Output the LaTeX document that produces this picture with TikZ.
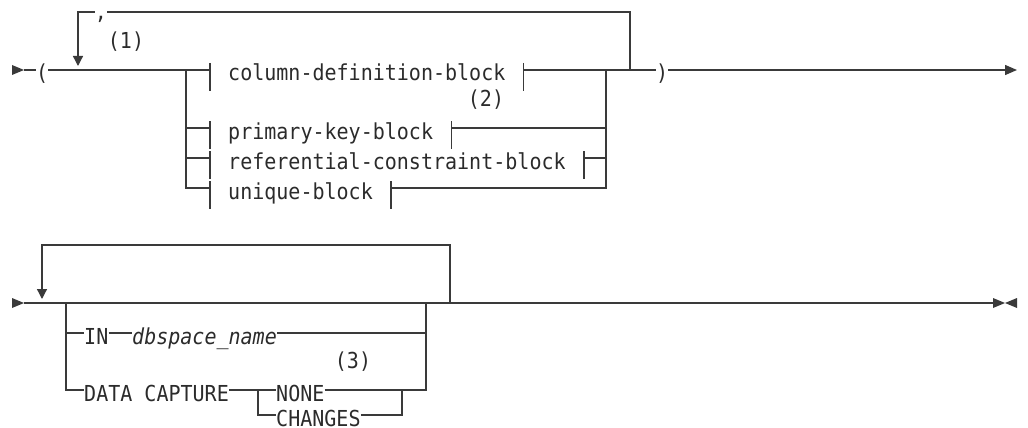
\documentclass[tikz,border=0pt]{standalone}
\usepackage{fontspec}
\setmonofont[FakeStretch=0.91]{DejaVu Sans Mono}
\usepackage{tikz}
\usetikzlibrary{positioning,arrows.meta,calc}
\definecolor{cRail}{HTML}{3A3A3A}
\definecolor{cText}{HTML}{2B2B2B}

\begin{document}
\begin{tikzpicture}[
  x=1pt, y=-1pt,
  >={Triangle[length=10pt, width=10pt]},
  every node/.style={text=cText, inner sep=0pt,
                     font=\ttfamily\fontsize{22}{26}\selectfont},
  %
  kw/.style={anchor=west, text height=22pt, text depth=0pt},   % rail passes 11pt above baseline
  note/.style={anchor=center},
  rail/.style={draw=cRail, line width=1.3pt},
  marker/.style={fill=cRail},
]
\useasboundingbox (0,0) rectangle (1028,428);

% ────────────── UPPER DIAGRAM: main rail ───────────────────────────────────
\coordinate (s1)     at (12,70);
\coordinate (bL)     at (186,70);
\coordinate (bR)     at (606,70);
\coordinate (loopR)  at (630,70);
\coordinate (loopT)  at (630,12);
\coordinate (loopL)  at (78,12);
\coordinate (loopLe) at (78,66);
\coordinate (end1)   at (1017,70);

\fill[marker] (s1) ++(0,-5) -- ++(12,5) -- ++(-12,5) -- cycle;
\node[kw] (lp) at (36,70)  {(};
\node[kw] (rp) at (656,70) {)};

% ────────────── UPPER DIAGRAM: fragment blocks ─────────────────────────────
\node[kw] (cdb) at (228,70)  {column-definition-block};
\node[kw] (pkb) at (228,128) {primary-key-block};
\node[kw] (rcb) at (228,158) {referential-constraint-block};
\node[kw] (ukb) at (228,188) {unique-block};

\foreach \n in {cdb,pkb,rcb,ukb} {
  \draw[rail] ($(\n.west)+(-18,-7)$) -- ++(0,28);
  \draw[rail] ($(\n.east)+(18,-7)$)  -- ++(0,28);
}

% ────────────── UPPER DIAGRAM: notes + repeat separator ────────────────────
\node[note] (comma) at (101,19)  {,};
\node[note] (n1)    at (126,42)  {(1)};
\node[note] (n2)    at (486,100) {(2)};

% ────────────── UPPER DIAGRAM: rails ───────────────────────────────────────
\draw[rail] ($(s1)+(12,0)$) -- (lp.west);
\draw[rail] (lp.east) -- ($(cdb.west)+(-18,0)$);
\draw[rail] (bL) |- ($(ukb.west)+(-18,0)$);
\draw[rail] (bL |- pkb.west) -- ($(pkb.west)+(-18,0)$);
\draw[rail] (bL |- rcb.west) -- ($(rcb.west)+(-18,0)$);

\draw[rail] ($(cdb.east)+(18,0)$) -- (loopR) -- (rp.west);
\draw[rail] (bR) |- ($(ukb.east)+(18,0)$);
\draw[rail] ($(pkb.east)+(18,0)$) -- (bR |- pkb.east);
\draw[rail] ($(rcb.east)+(18,0)$) -- (bR |- rcb.east);
\draw[rail, ->, >={Triangle[length=12pt, width=10pt]}] (rp.east) -- (end1);

% repeat loop back over the blocks
\draw[rail] (loopR) -- (loopT) -- (loopT -| comma.east);
\draw[rail, ->] (loopT -| comma.west) -- (loopL) -- (loopLe);

% ────────────── LOWER DIAGRAM: main rail ───────────────────────────────────
\coordinate (s2)      at (12,303);
\coordinate (bL2)     at (66,303);
\coordinate (bR2)     at (426,303);
\coordinate (loopR2)  at (450,303);
\coordinate (loopT2)  at (450,245);
\coordinate (loopL2)  at (42,245);
\coordinate (loopL2e) at (42,299);
\coordinate (end2)    at (993,303);

\fill[marker] (s2) ++(0,-5) -- ++(12,5) -- ++(-12,5) -- cycle;

\node[kw] (in)   at (84,333)  {IN};
\node[kw] (dbs)  at (132,333) {\itshape dbspace\_name};
\node[kw] (dc)   at (84,390)  {DATA CAPTURE};
\node[kw] (none) at (276,390) {NONE};
\node[kw] (chg)  at (276,415) {CHANGES};
\node[note] (n3) at (353,362) {(3)};

\coordinate (bL3) at (258,390);
\coordinate (bR3) at (402,390);

% ────────────── LOWER DIAGRAM: rails ───────────────────────────────────────
\draw[rail] ($(s2)+(12,0)$) -- (end2);
\draw[rail] (bL2) |- (dc.west);
\draw[rail] (bL2 |- in.west) -- (in.west);
\draw[rail] (in.east) -- (dbs.west);
\draw[rail] (dbs.east) -| (bR2);
\draw[rail] (dc.east) -- (none.west);
\draw[rail] (bL3) |- (chg.west);
\draw[rail] (chg.east) -| (bR3);
\draw[rail] (none.east) -| (bR2);

% repeat loop over the options
\draw[rail, ->] (loopR2) -- (loopT2) -- (loopL2) -- (loopL2e);

% end-of-statement marker
\fill[marker] (end2) ++(0,-5) -- ++(12,5) -- ++(-12,5) -- cycle;
\fill[marker] (end2) ++(24,-5) -- ++(-12,5) -- ++(12,5) -- cycle;

\end{tikzpicture}
\end{document}
